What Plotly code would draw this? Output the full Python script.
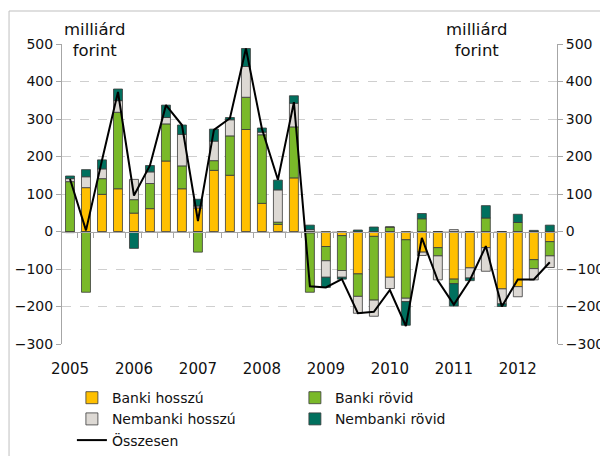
import plotly.graph_objects as go

# Quarterly, 2005 Q1 .. 2012 Q3
quarters = [f"{y} Q{q}" for y in range(2005, 2013) for q in range(1, 5)][:31]
year_labels = ["2005", "2006", "2007", "2008", "2009", "2010", "2011", "2012"]

banki_hosszu = [-3, 117, 99, 114, 49, 61, 188, 114, 63, 163, 150, 272, 75, 19, 143, -4,
                -40, -11, -113, -13, -122, -22, -55, -43, -127, -97, -43, -153, -147, -75, -27]
banki_rovid = [133, -162, 42, 204, 36, 67, 99, 61, -55, 26, 105, 86, 183, 6, 136, -158,
               -38, -93, -60, -170, 12, -156, 34, -22, -12, 0, 36, 0, 24, -24, -38]
nembanki_hosszu = [8, 29, 26, 31, 54, 31, 17, 84, 5, 52, 43, 82, 7, 86, 63, 5,
                   -44, -18, -45, -43, -30, -9, -9, -64, 5, -27, -63, -40, -27, -30, -31]
nembanki_rovid = [7, 19, 24, 31, -45, 17, 33, 25, 18, 32, 6, 48, 11, 26, 20, 12,
                  -27, -5, 4, 12, 0, -63, 14, 0, -60, -7, 33, -7, 22, 3, 17]
osszesen = [140, 3, 190, 372, 96, 176, 337, 284, 28, 271, 302, 488, 274, 138, 345, -146,
            -149, -127, -218, -214, -156, -252, -17, -131, -195, -130, -39, -200, -128, -128, -82]

x_idx = list(range(len(quarters)))
font = "DejaVu Sans"
edge = "#3a3a3a"
txt = "#111111"

fig = go.Figure()
series = [
    ("Banki hosszú", banki_hosszu, "#FFC000"),
    ("Banki rövid", banki_rovid, "#7AB929"),
    ("Nembanki hosszú", nembanki_hosszu, "#DDD9D4"),
    ("Nembanki rövid", nembanki_rovid, "#00705E"),
]
for name, vals, col in series:
    fig.add_trace(go.Bar(x=x_idx, y=vals, name=name, width=0.56,
                         marker=dict(color=col, line=dict(color=edge, width=0.8)),
                         xaxis="x", yaxis="y"))

fig.add_trace(go.Scatter(x=x_idx, y=osszesen, name="Összesen", mode="lines",
                         line=dict(color="black", width=2),
                         xaxis="x2", yaxis="y2"))

xr = [-0.5, 30.45]
yr = [-300, 500]
fig.update_layout(
    width=600, height=448,
    margin=dict(l=54, r=51, t=36, b=112, autoexpand=False),
    paper_bgcolor="white", plot_bgcolor="white",
    barmode="relative",
    font=dict(family=font, size=14, color=txt),
    showlegend=True,
    legend=dict(orientation="h", x=0.02, xanchor="left", y=-0.127, yanchor="top",
                entrywidth=178, entrywidthmode="pixels",
                font=dict(family=font, size=14, color=txt),
                traceorder="normal", itemwidth=30),
    xaxis=dict(range=xr, tickmode="array", tickvals=[0, 4, 8, 12, 16, 20, 24, 28],
               ticktext=year_labels, showgrid=False, showline=False, zeroline=False,
               ticks="outside", ticklen=11, tickcolor="rgba(0,0,0,0)",
               tickfont=dict(size=15), anchor="y"),
    xaxis2=dict(range=xr, overlaying="x", anchor="free", position=0.375,
                tickmode="array", tickvals=[i + 0.5 for i in range(31)],
                ticks="outside", ticklen=5, tickcolor="#A6A6A6",
                showticklabels=False, showline=True, linecolor="#A6A6A6", linewidth=1,
                showgrid=False, zeroline=False),
    yaxis=dict(range=yr, dtick=100, tick0=0, showgrid=True, gridcolor="#CFCFCF",
               griddash="dash", gridwidth=1, zeroline=False, showline=True,
               linecolor="#A6A6A6", ticks="outside", ticklen=5, tickcolor="#A6A6A6",
               tickfont=dict(size=14)),
    yaxis2=dict(range=yr, dtick=100, tick0=0, overlaying="y", side="right", anchor="x2",
                showgrid=False, zeroline=False, showline=True, linecolor="#A6A6A6",
                ticks="outside", ticklen=5, tickcolor="#A6A6A6", tickfont=dict(size=14)),
    shapes=[dict(type="rect", xref="paper", yref="paper", x0=-0.107, x1=1.3,
                 y0=-1.0, y1=1.11, line=dict(color="#BFBFBF", width=1),
                 fillcolor="rgba(0,0,0,0)", layer="below")],
    annotations=[
        dict(text="milliárd<br>forint", xref="paper", yref="paper", x=0.067, y=1.013,
             xanchor="center", yanchor="middle", showarrow=False,
             font=dict(family=font, size=16.5, color=txt)),
        dict(text="milliárd<br>forint", xref="paper", yref="paper", x=0.838, y=1.013,
             xanchor="center", yanchor="middle", showarrow=False,
             font=dict(family=font, size=16.5, color=txt)),
    ],
)

fig.write_html("out.html")
